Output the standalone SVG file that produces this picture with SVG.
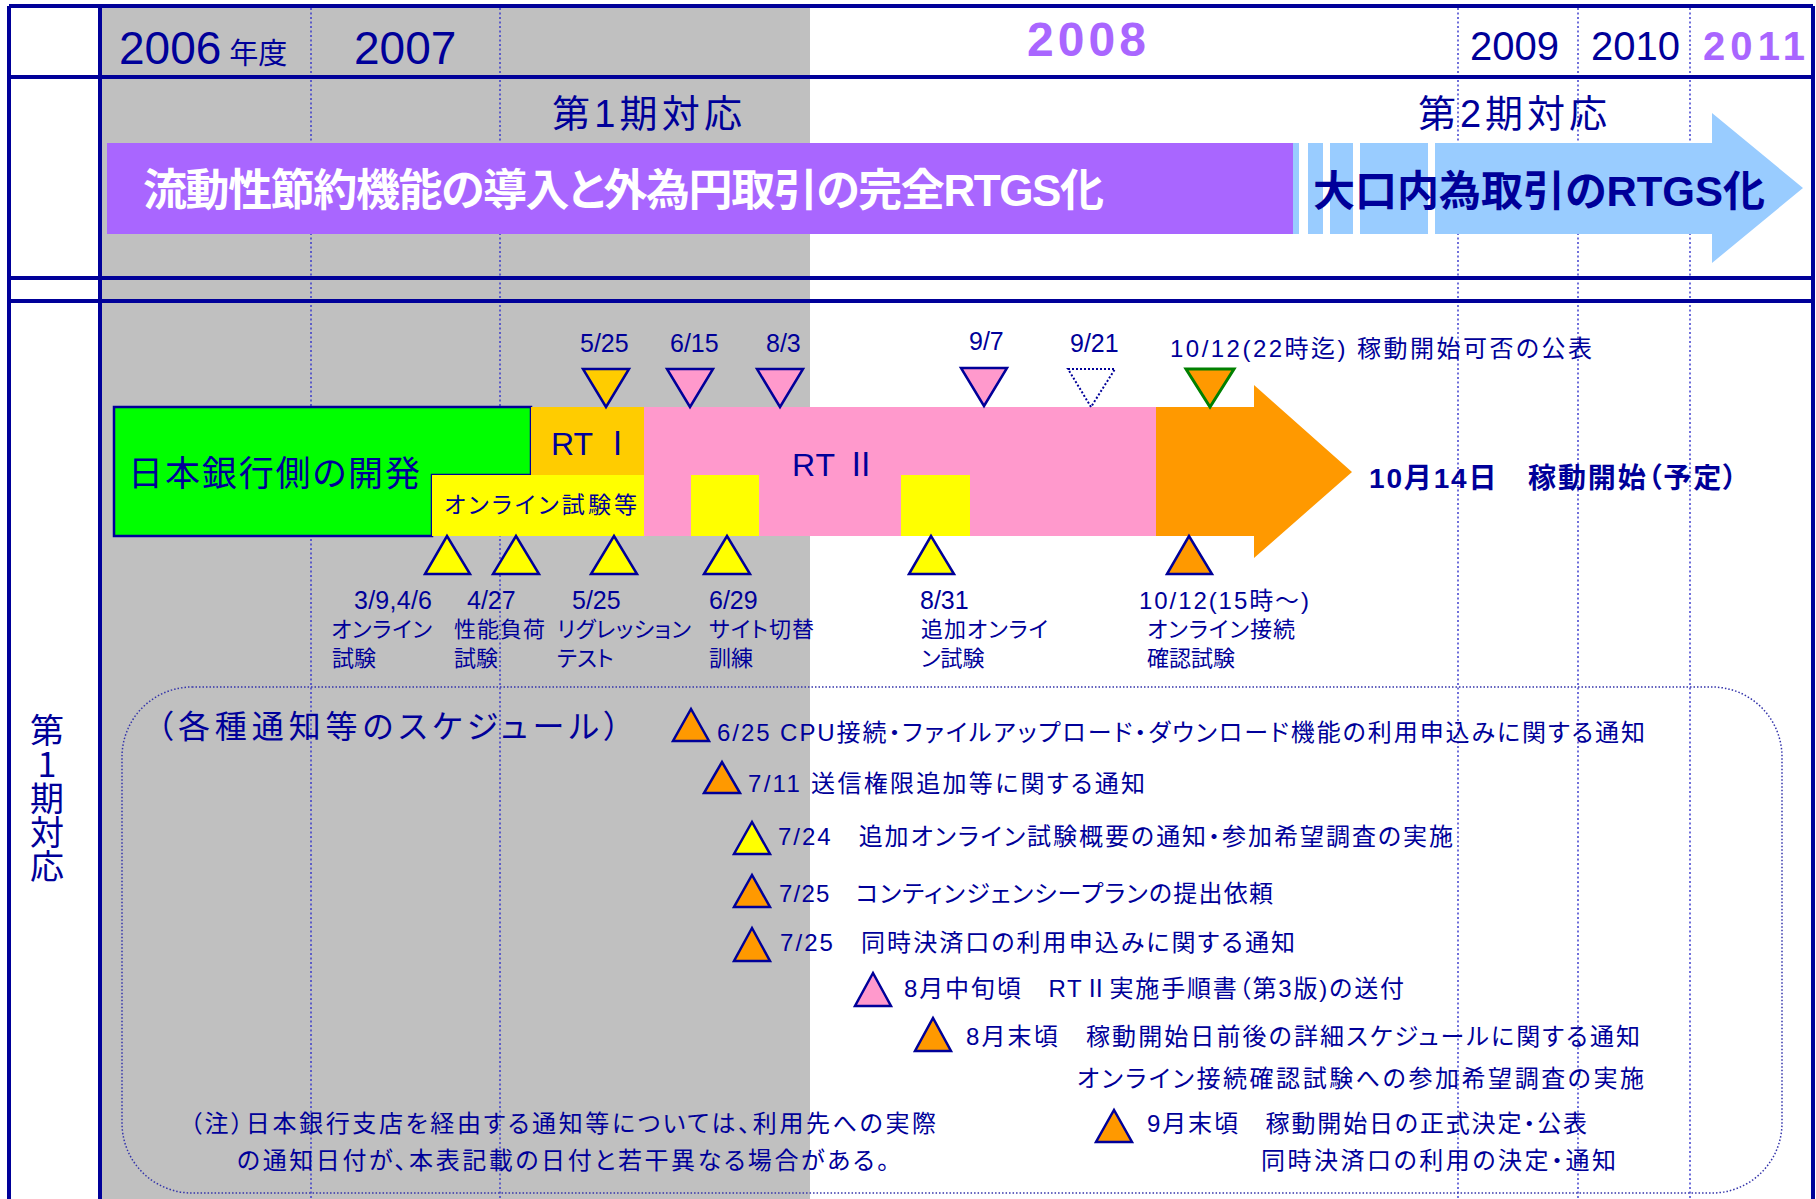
<svg xmlns="http://www.w3.org/2000/svg" width="1816" height="1199" viewBox="0 0 1816 1199">
<style>
.t{font-family:"Liberation Sans","Noto Sans CJK JP",sans-serif;fill:#000099;font-feature-settings:"palt";}
.j{font-family:"Noto Sans CJK JP",sans-serif;fill:#000099;font-feature-settings:"palt";}
.b{font-weight:bold;}
.frame{stroke:#000099;stroke-width:4;fill:none;}
.dot{stroke:#3333cc;stroke-width:1.4;stroke-dasharray:2 2.5;fill:none;}
.tri{stroke:#000099;stroke-width:2.5;stroke-linejoin:miter;}
.y{fill:#ffff00;}
.o{fill:#ff9900;}
.g{fill:#ffcc00;}
.p{fill:#ff99cc;}
</style>
<rect x="0" y="0" width="1816" height="1199" fill="#ffffff"/>
<rect x="100" y="6" width="710" height="1193" fill="#c0c0c0"/>
<g id="gridlines">
<line class="dot" x1="311" y1="8" x2="311" y2="1199"/>
<line class="dot" x1="500" y1="8" x2="500" y2="1199"/>
<line class="dot" x1="1458" y1="8" x2="1458" y2="1199"/>
<line class="dot" x1="1578" y1="8" x2="1578" y2="1199"/>
<line class="dot" x1="1690" y1="8" x2="1690" y2="1199"/>
</g>
<g id="frame">
<line class="frame" x1="9" y1="6" x2="1813" y2="6"/>
<line class="frame" x1="9" y1="77" x2="1813" y2="77"/>
<line class="frame" x1="9" y1="278" x2="1813" y2="278"/>
<line class="frame" x1="9" y1="301" x2="1813" y2="301"/>
<line class="frame" x1="9" y1="6" x2="9" y2="1199"/>
<line class="frame" x1="100" y1="6" x2="100" y2="1199"/>
<line class="frame" x1="1813" y1="6" x2="1813" y2="1199"/>
</g>
<g id="years">
<text class="t" x="119" y="64" font-size="46">2006<tspan class="j" font-size="29" dx="8">年度</tspan></text>
<text class="t" x="354" y="64" font-size="46">2007</text>
<text class="t b" x="1027" y="56" font-size="48" style="fill:#a966ff" textLength="119">2008</text>
<text class="t" x="1470" y="60" font-size="40">2009</text>
<text class="t" x="1591" y="60" font-size="40">2010</text>
<text class="t b" x="1703" y="60" font-size="40" style="fill:#a966ff" textLength="102">2011</text>
</g>
<g id="phase-labels">
<text class="t" x="552" y="127" font-size="38" textLength="190">第1期対応</text>
<text class="t" x="1418" y="127" font-size="38" textLength="189">第2期対応</text>
</g>
<g id="phase1-bar">
<rect x="107" y="143" width="1186" height="91" fill="#a966ff"/>
<text class="t b" x="143" y="206" font-size="44" style="fill:#ffffff" textLength="961">流動性節約機能の導入と外為円取引の完全RTGS化</text>
</g>
<g id="phase2-arrow">
<rect x="1293" y="143" width="6" height="91" fill="#99ccff"/>
<rect x="1308" y="143" width="15" height="91" fill="#99ccff"/>
<rect x="1330" y="143" width="23" height="91" fill="#99ccff"/>
<rect x="1360" y="143" width="68" height="91" fill="#99ccff"/>
<polygon points="1435,143 1712,143 1712,113 1803,188 1712,263 1712,234 1435,234" fill="#99ccff"/>
<text class="t b" x="1313" y="206" font-size="42" textLength="452">大口内為取引のRTGS化</text>
</g>
<g id="side-label">
<text class="j" x="47" y="713" font-size="34" style="writing-mode:vertical-rl;text-orientation:upright">第1期対応</text>
</g>
<g id="boj-dev">
<polygon points="114,407 531,407 531,475 432,475 432,536 114,536" fill="#00ff00" stroke="#000099" stroke-width="2.5"/>
<text class="t" x="128" y="486" font-size="35" textLength="292">日本銀行側の開発</text>
</g>
<g id="rt1">
<rect x="531" y="407" width="113" height="68" fill="#ffcc00"/>
<text class="t" x="551" y="455" font-size="32">RT Ⅰ</text>
</g>
<g id="online-test">
<rect x="432" y="475" width="212" height="61" fill="#ffff00"/>
<text class="t" x="444" y="513" font-size="23" textLength="193">オンライン試験等</text>
</g>
<g id="rt2">
<rect x="644" y="407" width="513" height="129" fill="#ff99cc"/>
<rect x="691" y="475" width="68" height="61" fill="#ffff00"/>
<rect x="901" y="475" width="69" height="61" fill="#ffff00"/>
<text class="t" x="792" y="476" font-size="32" textLength="85">RT Ⅱ</text>
</g>
<g id="go-live">
<polygon points="1156,407 1254,407 1254,385 1352,472 1254,558 1254,536 1156,536" fill="#ff9900"/>
<text class="t b" x="1369" y="488" font-size="28" textLength="368">10月14日　稼動開始（予定）</text>
</g>
<g id="top-milestones">
<polygon class="tri g" points="583,369 629,369 606,407"/>
<polygon class="tri p" points="667,369 713,369 690,407"/>
<polygon class="tri p" points="757,369 803,369 780,407"/>
<polygon class="tri p" points="961,368 1007,368 984,406"/>
<polygon points="1068,369 1115,369 1091,407" fill="#ffffff" stroke="#000099" stroke-width="2" stroke-dasharray="2 2"/>
<polygon points="1186,369 1234,369 1210,407" fill="#ff9900" stroke="#008000" stroke-width="3"/>
<text class="t" x="580" y="352" font-size="25">5/25</text>
<text class="t" x="670" y="352" font-size="25">6/15</text>
<text class="t" x="766" y="352" font-size="25">8/3</text>
<text class="t" x="969" y="350" font-size="25">9/7</text>
<text class="t" x="1070" y="352" font-size="25">9/21</text>
<text class="t" x="1170" y="357" font-size="24" textLength="422">10/12(22時迄) 稼動開始可否の公表</text>
</g>
<g id="bottom-milestones">
<polygon class="tri y" points="425,574 470,574 447,536"/>
<polygon class="tri y" points="493,574 539,574 516,536"/>
<polygon class="tri y" points="591,574 637,574 614,536"/>
<polygon class="tri y" points="704,574 750,574 727,536"/>
<polygon class="tri y" points="909,574 954,574 931,536"/>
<polygon class="tri o" points="1167,574 1212,574 1189,536"/>
<text class="t" x="354" y="609" font-size="25" textLength="78">3/9,4/6</text>
<text class="t" x="331" y="637" font-size="22" textLength="101">オンライン</text>
<text class="t" x="332" y="666" font-size="22">試験</text>
<text class="t" x="467" y="609" font-size="25">4/27</text>
<text class="t" x="454" y="637" font-size="22" textLength="91">性能負荷</text>
<text class="t" x="454" y="666" font-size="22">試験</text>
<text class="t" x="572" y="609" font-size="25">5/25</text>
<text class="t" x="557" y="637" font-size="22" textLength="134">リグレッション</text>
<text class="t" x="557" y="666" font-size="22">テスト</text>
<text class="t" x="709" y="609" font-size="25">6/29</text>
<text class="t" x="709" y="637" font-size="22" textLength="105">サイト切替</text>
<text class="t" x="709" y="666" font-size="22">訓練</text>
<text class="t" x="920" y="609" font-size="25">8/31</text>
<text class="t" x="921" y="637" font-size="22" textLength="127">追加オンライ</text>
<text class="t" x="921" y="666" font-size="22">ン試験</text>
<text class="t" x="1139" y="609" font-size="24" textLength="170">10/12(15時～)</text>
<text class="t" x="1147" y="637" font-size="22" textLength="148">オンライン接続</text>
<text class="t" x="1147" y="666" font-size="22">確認試験</text>
</g>
<g id="schedule">
<rect x="122" y="687" width="1660" height="506" rx="70" ry="70" fill="none" stroke="#3333aa" stroke-width="1.5" stroke-dasharray="1.5 2"/>
<text class="t" x="157" y="738" font-size="32" textLength="463">（各種通知等のスケジュール）</text>
<polygon class="tri o" points="673,741 709,741 691,709"/>
<polygon class="tri o" points="704,793 740,793 722,762"/>
<polygon class="tri y" points="734,854 770,854 752,822"/>
<polygon class="tri o" points="734,907 770,907 752,875"/>
<polygon class="tri o" points="734,961 770,961 752,928"/>
<polygon class="tri p" points="855,1006 891,1006 873,973"/>
<polygon class="tri o" points="915,1051 951,1051 933,1018"/>
<polygon class="tri o" points="1096,1142 1132,1142 1114,1110"/>
<text class="t" x="717" y="741" font-size="24" textLength="928">6/25 CPU接続・ファイルアップロード・ダウンロード機能の利用申込みに関する通知</text>
<text class="t" x="748" y="792" font-size="24" textLength="397">7/11 送信権限追加等に関する通知</text>
<text class="t" x="778" y="845" font-size="24" textLength="675">7/24　追加オンライン試験概要の通知・参加希望調査の実施</text>
<text class="t" x="779" y="902" font-size="24" textLength="494">7/25　コンティンジェンシープランの提出依頼</text>
<text class="t" x="780" y="951" font-size="24" textLength="515">7/25　同時決済口の利用申込みに関する通知</text>
<text class="t" x="904" y="997" font-size="24" textLength="500">8月中旬頃　RTⅡ実施手順書（第3版)の送付</text>
<text class="t" x="966" y="1045" font-size="24" textLength="674">8月末頃　稼動開始日前後の詳細スケジュールに関する通知</text>
<text class="t" x="1077" y="1087" font-size="24" textLength="567">オンライン接続確認試験への参加希望調査の実施</text>
<text class="t" x="1147" y="1132" font-size="24" textLength="440">9月末頃　稼動開始日の正式決定・公表</text>
<text class="t" x="1261" y="1169" font-size="24" textLength="355">同時決済口の利用の決定・通知</text>
<text class="t" x="190" y="1132" font-size="24" textLength="746">（注）日本銀行支店を経由する通知等については、利用先への実際</text>
<text class="t" x="237" y="1169" font-size="24" textLength="652">の通知日付が、本表記載の日付と若干異なる場合がある。</text>
</g>
</svg>
